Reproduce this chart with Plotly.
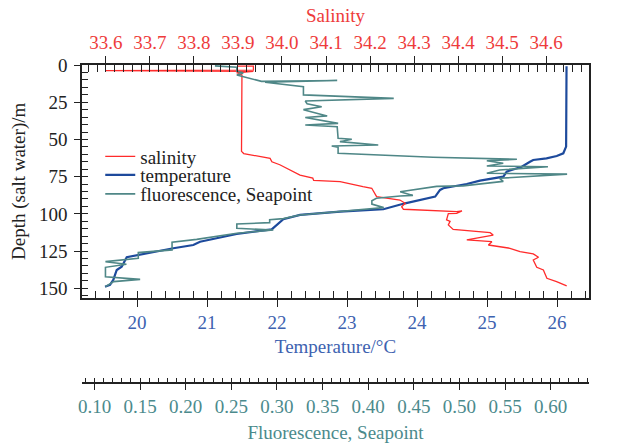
import plotly.graph_objects as go

# ---- CTD profile readings ----
# salinity profile
sal_depth = [0.7, 0.7, 3.4, 3.8, 4.3, 5.2, 6.7, 30.0, 58.0, 59.5, 62.7, 65.0, 67.0,
             74.0, 76.0, 77.5, 78.4, 81.7, 82.8, 88.4, 90.7, 92.9, 95.2, 96.9,
             98.5, 98.0, 99.6, 99.8, 104.0, 105.0, 107.4, 110.4, 112.6, 114.2,
             117.5, 118.7, 120.9, 123.1, 125.4, 126.9, 129.1, 131.0, 135.9,
             137.7, 143.3, 145.5, 148.4]
salinity = [33.900, 33.935, 33.935, 33.600, 33.935, 33.897, 33.909, 33.908, 33.908,
            33.913, 33.973, 33.977, 33.995, 34.041, 34.070, 34.072, 34.132,
            34.184, 34.204, 34.215, 34.268, 34.280, 34.272, 34.276, 34.397,
            34.409, 34.397, 34.378, 34.374, 34.382, 34.378, 34.389, 34.473,
            34.480, 34.420, 34.477, 34.469, 34.518, 34.541, 34.571, 34.583,
            34.571, 34.579, 34.594, 34.602, 34.624, 34.647]

# temperature profile
temp_depth = [0.8, 30.0, 54.8, 59.3, 61.1, 62.7, 63.8, 65.0, 68.3, 71.6, 75.0,
              77.7, 79.9, 82.8, 83.9, 88.4, 92.9, 96.9, 98.5, 100.7, 103.6,
              110.4, 113.5, 118.7, 120.9, 123.1, 127.6, 129.1, 135.5, 137.7,
              144.4, 147.7, 148.9]
temperature = [26.136, 26.134, 26.130, 26.090, 25.996, 25.850, 25.660, 25.614,
               25.496, 25.281, 25.233, 24.900, 24.710, 24.376, 24.329, 24.260,
               23.830, 23.519, 22.900, 22.329, 22.090, 21.924, 21.424, 20.900,
               20.804, 20.519, 20.019, 19.853, 19.781, 19.710, 19.661, 19.614,
               19.543]

# fluorescence profile (Seapoint fluorometer)
fl_depth = [0.6, 1.5, 4.2, 5.3, 6.7, 11.0, 10.4, 11.6, 14.6, 20.1, 22.4, 24.2,
            26.0, 28.0, 30.0, 34.2, 35.3, 39.2, 40.3, 41.4, 49.2, 49.9, 51.5,
            53.7, 54.4, 55.3, 59.3, 62.0, 63.3, 64.3, 66.0, 67.8, 68.3, 70.5,
            72.7, 73.3, 76.1, 78.2, 81.2, 81.5, 85.1, 87.6, 88.0, 89.5, 91.2,
            93.4, 95.8, 98.5, 100.7, 103.2, 103.9, 105.9, 106.8, 109.7, 110.8,
            113.0, 117.1, 119.1, 124.2, 126.0, 129.8, 132.1, 133.8, 135.9,
            142.2, 144.0, 145.5, 148.9]
fluorescence = [0.232, 0.256, 0.256, 0.263, 0.256, 0.283, 0.366, 0.287, 0.329,
                0.329, 0.428, 0.331, 0.333, 0.349, 0.329, 0.355, 0.331, 0.367,
                0.331, 0.366, 0.367, 0.382, 0.369, 0.411, 0.360, 0.367, 0.367,
                0.471, 0.563, 0.530, 0.548, 0.530, 0.597, 0.544, 0.530, 0.618,
                0.544, 0.548, 0.504, 0.475, 0.435, 0.449, 0.435, 0.409, 0.404,
                0.404, 0.417, 0.369, 0.325, 0.307, 0.292, 0.292, 0.256, 0.256,
                0.296, 0.256, 0.212, 0.185, 0.185, 0.148, 0.148, 0.112, 0.135,
                0.112, 0.112, 0.150, 0.121, 0.112]

# ---- styling ----
SERIF = "Liberation Serif"
FS = 19
INK = "#222222"
RED_LINE, RED_TEXT = "#ff2b2b", "#ee3b3b"
BLUE_LINE, BLUE_TEXT = "#1d4a9c", "#3d62b0"
TEAL_LINE, TEAL_TEXT = "#4f8787", "#4b8a8c"

T_RANGE = [19.214, 26.457]
S_RANGE = [33.5455, 34.6977]
F_RANGE = [0.0863, 0.642]
D_RANGE = [156.3, 0]

fig = go.Figure()

fig.add_trace(go.Scatter(x=salinity, y=sal_depth, xaxis="x2", yaxis="y",
                         mode="lines", name="salinity", legend="legend",
                         showlegend=True,
                         line=dict(color=RED_LINE, width=1.3)))
fig.add_trace(go.Scatter(x=fluorescence, y=fl_depth, xaxis="x3", yaxis="y",
                         mode="lines", name="fluorescence, Seapoint",
                         legend="legend3", showlegend=True,
                         line=dict(color=TEAL_LINE, width=1.6)))
fig.add_trace(go.Scatter(x=temperature, y=temp_depth, xaxis="x", yaxis="y",
                         mode="lines", name="temperature", legend="legend2",
                         showlegend=True,
                         line=dict(color=BLUE_LINE, width=2.2)))

# empty traces so the tick-only companion axes get drawn
for xa, ya in [("x4", "y"), ("x5", "y"), ("x6", "y"), ("x", "y2")]:
    fig.add_trace(go.Scatter(x=[], y=[], xaxis=xa, yaxis=ya,
                             showlegend=False, hoverinfo="skip"))

common = dict(showgrid=False, zeroline=False, tickcolor=INK, tickwidth=1.3,
              automargin=False)

def minor(d, ln):
    return dict(dtick=d, ticks="inside", ticklen=ln, tickcolor=INK, tickwidth=1.2,
                showgrid=False)

legend_base = dict(xanchor="left", yanchor="middle", bgcolor="rgba(0,0,0,0)",
                   borderwidth=0, font=dict(family=SERIF, size=FS, color=INK),
                   itemwidth=30)
LEG_X = 0.036

fig.update_layout(
    width=617, height=443,
    margin=dict(l=82, r=28, t=65, b=60, autoexpand=False),
    paper_bgcolor="white", plot_bgcolor="white",
    showlegend=True,
    font=dict(family=SERIF, size=FS, color=INK),
    legend=dict(legend_base, x=LEG_X, y=(383 - 156.5) / 318),
    legend2=dict(legend_base, x=LEG_X, y=(383 - 175) / 318),
    legend3=dict(legend_base, x=LEG_X, y=(383 - 194) / 318),
    xaxis=dict(common, range=T_RANGE, anchor="y", side="bottom",
               tickmode="linear", tick0=20, dtick=1, ticks="outside", ticklen=7,
               ticklabelstandoff=0,
               showline=True, linecolor=INK, linewidth=1.6,
               tickfont=dict(color=BLUE_TEXT, size=FS),
               title=dict(text="Temperature/°C", font=dict(color=BLUE_TEXT, size=FS),
                          standoff=7)),
    xaxis4=dict(common, range=T_RANGE, anchor="y", side="bottom", overlaying="x",
                tickmode="linear", tick0=20, dtick=1, ticks="inside", ticklen=7,
                showticklabels=False, showline=False, minor=minor(0.2, 7)),
    xaxis2=dict(common, range=S_RANGE, anchor="y", side="top", overlaying="x",
                tickmode="linear", tick0=33.6, dtick=0.1, tickformat=".1f",
                ticks="outside", ticklen=7,
                showline=True, linecolor=INK, linewidth=1.6,
                tickfont=dict(color=RED_TEXT, size=FS),
                title=dict(text="Salinity", font=dict(color=RED_TEXT, size=FS),
                           standoff=4)),
    xaxis5=dict(common, range=S_RANGE, anchor="y", side="top", overlaying="x",
                tickmode="linear", tick0=33.6, dtick=0.1, ticks="inside", ticklen=7,
                showticklabels=False, showline=False, minor=minor(0.02, 7)),
    xaxis3=dict(common, range=F_RANGE, anchor="free", position=0, side="bottom",
                overlaying="x", tickmode="linear", tick0=0.1, dtick=0.05,
                tickformat=".2f", ticks="outside", ticklen=6, ticklabelstandoff=0,
                showline=True, linecolor=INK, linewidth=1.6,
                tickfont=dict(color=TEAL_TEXT, size=FS),
                title=dict(text="Fluorescence, Seapoint",
                           font=dict(color=TEAL_TEXT, size=FS), standoff=18)),
    xaxis6=dict(common, range=F_RANGE, anchor="free", position=0, side="bottom",
                overlaying="x", tickmode="linear", tick0=0.1, dtick=0.05,
                ticks="inside", ticklen=5, showticklabels=False, showline=False,
                minor=minor(0.01, 5)),
    yaxis=dict(common, range=D_RANGE, domain=[85.3 / 318, 1], anchor="x",
               tickmode="linear", tick0=0, dtick=25, ticks="outside", ticklen=6,
               ticklabelstandoff=3,
               showline=True, mirror=True, linecolor=INK, linewidth=1.6,
               tickfont=dict(color=INK, size=FS),
               title=dict(text="Depth (salt water)/m", font=dict(color=INK, size=FS),
                          standoff=8)),
    yaxis2=dict(common, range=D_RANGE, domain=[85.3 / 318, 1], anchor="x",
                overlaying="y", side="left", tickmode="linear", tick0=0, dtick=25,
                ticks="inside", ticklen=6, showticklabels=False, showline=False,
                minor=minor(5, 6)),
)

fig.write_html("out.html")
